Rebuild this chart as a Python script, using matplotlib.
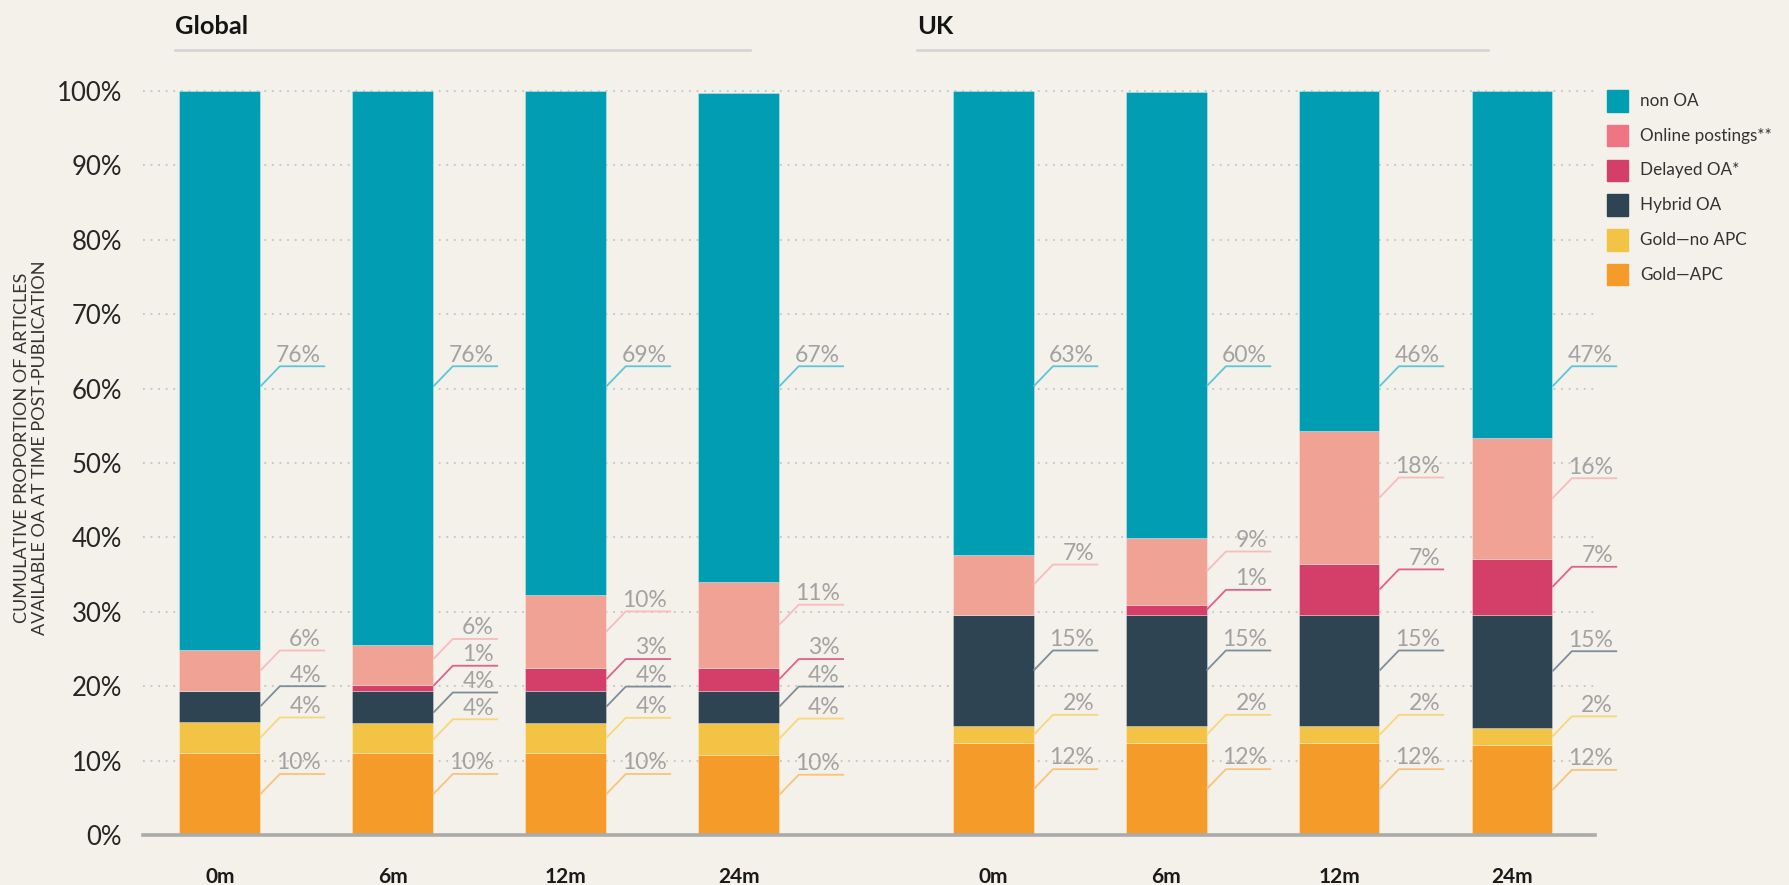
import matplotlib
matplotlib.use('Agg')
import matplotlib.pyplot as plt
from matplotlib.patches import Rectangle
import numpy as np

# ---------------- data ----------------
groups = ['Global', 'UK']
months = ['0m', '6m', '12m', '24m']
series_names = ['Gold—APC', 'Gold—no APC', 'Hybrid OA', 'Delayed OA*',
                'Online postings**', 'non OA']

# segment heights (% of articles), bars: Global 0m,6m,12m,24m, UK 0m,6m,12m,24m
gold_apc   = [11.0, 11.0, 11.0, 10.8, 12.3, 12.3, 12.3, 12.1]
gold_noapc = [4.2, 4.1, 4.1, 4.3, 2.3, 2.3, 2.3, 2.3]
hybrid_oa  = [4.2, 4.3, 4.3, 4.3, 15.0, 15.0, 15.0, 15.2]
delayed_oa = [0.0, 0.8, 3.1, 3.1, 0.0, 1.3, 6.8, 7.5]
online_post = [5.4, 5.4, 9.7, 11.5, 8.1, 9.0, 17.9, 16.3]
non_oa     = [75.2, 74.4, 67.8, 65.7, 62.3, 60.0, 45.7, 46.6]

# printed labels (None = no label)
lbl_apc     = [10, 10, 10, 10, 12, 12, 12, 12]
lbl_noapc   = [4, 4, 4, 4, 2, 2, 2, 2]
lbl_hybrid  = [4, 4, 4, 4, 15, 15, 15, 15]
lbl_delayed = [None, 1, 3, 3, None, 1, 7, 7]
lbl_online  = [6, 6, 10, 11, 7, 9, 18, 16]
lbl_nonoa   = [76, 76, 69, 67, 63, 60, 46, 47]

yticks = [0, 10, 20, 30, 40, 50, 60, 70, 80, 90, 100]

# ---------------- style ----------------
bar_colors = ['#f49b29', '#f2c344', '#2e4453', '#d43f6a', '#f0a294', '#009db3']
legend_colors = ['#f49b29', '#f2c344', '#2e4453', '#d43f6a', '#ef7582', '#009db3']
leader_colors = ['#f9c37a', '#f7d77a', '#7d8e9a', '#e0628c', '#f7bcbc', '#5cc6d6']
BG = '#f4f1ea'
FONT = 'Lato'

segments = [gold_apc, gold_noapc, hybrid_oa, delayed_oa, online_post, non_oa]
labels = [lbl_apc, lbl_noapc, lbl_hybrid, lbl_delayed, lbl_online, lbl_nonoa]

W, H = 1790, 885
fig = plt.figure(figsize=(W / 100, H / 100), dpi=100, facecolor=BG)

# axes position in pixels
ax_left, ax_right = 143, 1595
y0_px, y100_px = 835, 91
px_per_pct = (y0_px - y100_px) / 100.0
ytop = 101
ax_top_px = y0_px - ytop * px_per_pct
ax = fig.add_axes([ax_left / W, 1 - y0_px / H, (ax_right - ax_left) / W,
                   (y0_px - ax_top_px) / H])
ax.set_facecolor(BG)

group_offset = 4.47
x = []
for g in range(len(groups)):
    for i in range(len(months)):
        x.append(i + g * group_offset)
x = np.array(x)
bw = 0.468

ax.set_xlim(-0.445, 7.95)
ax.set_ylim(0, ytop)

# grid
for t in yticks[1:]:
    ax.axhline(t, color='#c4c4c4', lw=1.3, ls=(0, (1, 3.2)), zorder=0)

bottom = np.zeros(len(x))
for vals, col in zip(segments, bar_colors):
    vals = np.array(vals)
    ax.bar(x, vals, bw, bottom=bottom, color=col, edgecolor=(1, 1, 1, 0.35),
           linewidth=0.6, zorder=2)
    bottom += vals

# ---------------- callout labels ----------------
def spread(desired, gap):
    clusters = []
    for d in desired:
        clusters.append([d])
        while len(clusters) > 1:
            a, b = clusters[-2], clusters[-1]
            sa = np.mean([v - k * gap for k, v in enumerate(a)])
            sb = np.mean([v - k * gap for k, v in enumerate(b)])
            if sa + len(a) * gap > sb:
                clusters[-2] = a + b
                clusters.pop()
            else:
                break
    out = []
    for c in clusters:
        s = np.mean([v - k * gap for k, v in enumerate(c)])
        out += [s + k * gap for k in range(len(c))]
    return out

rise = 2.7
diag_dx = 0.112
hline_len = 0.262
for b in range(len(x)):
    cum = 0.0
    items = []
    for s, (vals, lbls) in enumerate(zip(segments, labels)):
        v = vals[b]
        mid = cum + v / 2
        cum += v
        if lbls[b] is None:
            continue
        if s == len(segments) - 1:
            start = 60.3
        else:
            start = mid
        items.append((start + rise, s, lbls[b]))
    items.sort()
    ys = spread([it[0] for it in items], 3.6)
    xr = x[b] + bw / 2
    for ly, (_, s, lab) in zip(ys, items):
        sy = ly - rise
        xs = [xr, xr + diag_dx, xr + diag_dx + hline_len]
        ax.plot(xs, [sy, ly, ly], color=leader_colors[s], lw=1.3,
                solid_capstyle='butt', zorder=3, clip_on=False)
        ax.annotate(f'{lab}%', xy=(xs[-1], ly), xytext=(-3, 0.5),
                    textcoords='offset points', ha='right', va='bottom',
                    fontsize=16.5, color='#a2a2a2', family=FONT, zorder=4,
                    annotation_clip=False)

# ---------------- axes styling ----------------
for sp in ['top', 'right', 'left']:
    ax.spines[sp].set_visible(False)
ax.spines['bottom'].set_color('#ababab')
ax.spines['bottom'].set_linewidth(2.6)
ax.set_yticks(yticks)
ax.set_yticklabels([f'{t}%' for t in yticks], fontsize=18.5, color='#262626',
                   family=FONT)
ax.tick_params(axis='y', length=0, pad=15)
ax.set_xticks(x)
ax.set_xticklabels(months * len(groups), fontsize=15, fontweight='bold',
                   color='#1a1a1a', family=FONT)
ax.tick_params(axis='x', length=0, pad=23)

fig.text(31 / W, 1 - 448 / H,
         'CUMULATIVE PROPORTION OF ARTICLES\nAVAILABLE OA AT TIME POST-PUBLICATION',
         rotation=90, ha='center', va='center', fontsize=13, color='#333333',
         family=FONT, linespacing=1.1, multialignment='center')

# panel titles
title_specs = [(175, 750), (917, 1488)]
for name, (tx0, tx1) in zip(groups, title_specs):
    fig.text(tx0 / W, 1 - 26 / H, name, ha='left', va='center', fontsize=18.3,
             fontweight='bold', color='#141414', family=FONT)
    fig.add_artist(plt.Line2D([tx0 / W, tx1 / W], [1 - 50 / H, 1 - 50 / H],
                              color='#d2d1d4', lw=1.8, transform=fig.transFigure))

# legend (top = non OA)
leg_x, leg_y0, leg_dy, sw = 1607, 101, 34.7, 21.5
for k, s in enumerate(range(len(series_names) - 1, -1, -1)):
    cy = leg_y0 + k * leg_dy
    fig.add_artist(Rectangle(((leg_x) / W, 1 - (cy + sw / 2) / H), sw / W, sw / H,
                             transform=fig.transFigure, color=legend_colors[s]))
    fig.text((leg_x + 33) / W, 1 - cy / H, series_names[s], ha='left',
             va='center', fontsize=12.3, color='#333333', family=FONT)

fig.savefig('out.png', dpi=100, facecolor=BG)
